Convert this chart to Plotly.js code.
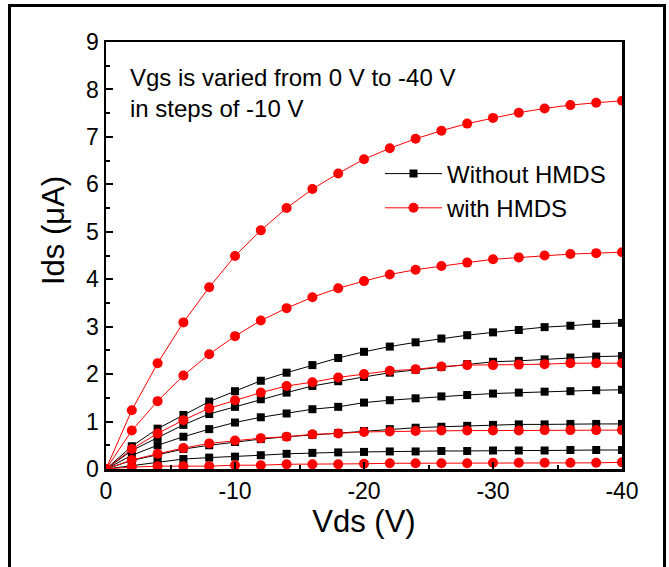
<!DOCTYPE html>
<html>
<head>
<meta charset="utf-8">
<script src="https://cdn.plot.ly/plotly-3.0.1.min.js"></script>
<style>
  html, body { margin: 0; padding: 0; background: #ffffff; }
  #chart { width: 669px; height: 567px; }
</style>
</head>
<body>
<div id="chart"></div>
<script>
// Drain voltage (V)
const vds = [0, -2, -4, -6, -8, -10, -12, -14, -16, -18, -20, -22, -24, -26, -28, -30, -32, -34, -36, -38, -40];

// Without HMDS (black squares), Vgs = -40, -30, -20, -10, 0 V
const noHmdsVgs40 = [0, 0.48, 0.85, 1.14, 1.42, 1.64, 1.86, 2.03, 2.19, 2.34, 2.47, 2.58, 2.67, 2.75, 2.82, 2.88, 2.93, 2.99, 3.02, 3.06, 3.08];
const noHmdsVgs30 = [0, 0.39, 0.66, 0.93, 1.16, 1.31, 1.47, 1.61, 1.75, 1.85, 1.94, 2.03, 2.09, 2.15, 2.21, 2.26, 2.28, 2.31, 2.35, 2.37, 2.38];
const noHmdsVgs20 = [0, 0.29, 0.50, 0.68, 0.84, 0.98, 1.09, 1.17, 1.26, 1.31, 1.40, 1.45, 1.49, 1.53, 1.56, 1.59, 1.61, 1.63, 1.64, 1.66, 1.67];
const noHmdsVgs10 = [0, 0.18, 0.30, 0.42, 0.50, 0.57, 0.63, 0.68, 0.72, 0.76, 0.80, 0.84, 0.87, 0.89, 0.91, 0.93, 0.94, 0.94, 0.95, 0.95, 0.95];
const noHmdsVgs0  = [0, 0.07, 0.15, 0.21, 0.24, 0.26, 0.29, 0.32, 0.34, 0.35, 0.36, 0.37, 0.37, 0.38, 0.38, 0.39, 0.39, 0.39, 0.40, 0.40, 0.40];

// With HMDS (red circles), Vgs = -40, -30, -20, -10, 0 V
const hmdsVgs40 = [0, 1.24, 2.23, 3.09, 3.83, 4.49, 5.03, 5.50, 5.90, 6.23, 6.53, 6.76, 6.96, 7.13, 7.28, 7.40, 7.51, 7.60, 7.67, 7.72, 7.76];
const hmdsVgs30 = [0, 0.81, 1.43, 1.97, 2.42, 2.80, 3.13, 3.39, 3.62, 3.81, 3.96, 4.10, 4.20, 4.28, 4.35, 4.42, 4.46, 4.50, 4.53, 4.55, 4.57];
const hmdsVgs20 = [0, 0.42, 0.75, 1.03, 1.28, 1.45, 1.61, 1.75, 1.83, 1.93, 2.00, 2.07, 2.10, 2.16, 2.19, 2.19, 2.20, 2.21, 2.23, 2.23, 2.23];
const hmdsVgs10 = [0, 0.19, 0.32, 0.44, 0.54, 0.60, 0.65, 0.68, 0.73, 0.75, 0.78, 0.79, 0.80, 0.81, 0.81, 0.81, 0.81, 0.82, 0.82, 0.82, 0.82];
const hmdsVgs0  = [0, 0.04, 0.06, 0.06, 0.06, 0.08, 0.08, 0.10, 0.10, 0.10, 0.11, 0.12, 0.12, 0.12, 0.12, 0.13, 0.13, 0.13, 0.13, 0.13, 0.14];

const noHmdsSeries = [noHmdsVgs40, noHmdsVgs30, noHmdsVgs20, noHmdsVgs10, noHmdsVgs0];
const hmdsSeries = [hmdsVgs40, hmdsVgs30, hmdsVgs20, hmdsVgs10, hmdsVgs0];

const legendNames = ['Without HMDS', 'with HMDS'];
const xTickVals = [0, -10, -20, -30, -40];
const xTickText = ['0', '-10', '-20', '-30', '-40'];
const xMinorVals = [-5, -15, -25, -35];
const yTickVals = [0, 1, 2, 3, 4, 5, 6, 7, 8, 9];
const yTickText = ['0', '1', '2', '3', '4', '5', '6', '7', '8', '9'];
const yMinorVals = [0.5, 1.5, 2.5, 3.5, 4.5, 5.5, 6.5, 7.5, 8.5];
const noteText = 'Vgs is varied from 0 V to -40 V<br>in steps of -10 V';
const xTitle = 'Vds (V)';
const yTitle = 'Ids (\u03bcA)';

const FONT = 'Liberation Sans, Arial, Helvetica, sans-serif';

const traces = [];
noHmdsSeries.forEach((ys, i) => {
  traces.push({
    x: vds, y: ys, type: 'scatter', mode: 'lines+markers',
    name: legendNames[0], legendgroup: 'a', showlegend: i === 0,
    line: { color: '#000000', width: 1 },
    marker: { symbol: 'square', size: 8, color: '#000000' }
  });
});
hmdsSeries.forEach((ys, i) => {
  traces.push({
    x: vds, y: ys, type: 'scatter', mode: 'lines+markers',
    name: legendNames[1], legendgroup: 'b', showlegend: i === 0,
    line: { color: '#ff0000', width: 1 },
    marker: { symbol: 'circle', size: 10, color: '#ff0000' }
  });
});

const layout = {
  width: 669, height: 567,
  margin: { l: 106, r: 47, t: 42, b: 98, pad: 0 },
  paper_bgcolor: '#ffffff', plot_bgcolor: '#ffffff',
  font: { family: FONT, color: '#000000' },
  showlegend: true,
  legend: {
    x: (380 - 106) / 516, xanchor: 'left', y: (469 - 191) / 427, yanchor: 'middle',
    bgcolor: 'rgba(0,0,0,0)', borderwidth: 0,
    font: { family: FONT, size: 24, color: '#000000' },
    tracegroupgap: 0, itemwidth: 57
  },
  xaxis: {
    range: [0, -40], autorange: false,
    tickmode: 'array', tickvals: xTickVals, ticktext: xTickText,
    ticks: 'inside', ticklen: 7, tickwidth: 2, tickcolor: '#000000',
    minor: { tickmode: 'array', tickvals: xMinorVals, ticks: 'inside', ticklen: 4, tickwidth: 2, tickcolor: '#000000' },
    showline: true, linewidth: 2.5, linecolor: '#000000', mirror: true,
    showgrid: false, zeroline: false,
    tickfont: { family: FONT, size: 23, color: '#000000' },
    title: { text: xTitle, font: { family: FONT, size: 31, color: '#000000' }, standoff: 6 }
  },
  yaxis: {
    range: [0, 9], autorange: false,
    tickmode: 'array', tickvals: yTickVals, ticktext: yTickText,
    ticks: 'inside', ticklen: 7, tickwidth: 2, tickcolor: '#000000',
    minor: { tickmode: 'array', tickvals: yMinorVals, ticks: 'inside', ticklen: 4, tickwidth: 2, tickcolor: '#000000' },
    showline: true, linewidth: 2.5, linecolor: '#000000', mirror: true,
    showgrid: false, zeroline: false,
    tickfont: { family: FONT, size: 23, color: '#000000' }
  },
  annotations: [{
    xref: 'paper', yref: 'paper', x: 0.0426, y: 0.8794,
    xanchor: 'left', yanchor: 'middle', align: 'left',
    text: noteText, showarrow: false,
    font: { family: FONT, size: 24, color: '#000000' }
  }, {
    xref: 'paper', yref: 'paper', x: (53 - 106) / 516, y: (469 - 231) / 427,
    xanchor: 'center', yanchor: 'middle', textangle: -90,
    text: yTitle, showarrow: false,
    font: { family: FONT, size: 31, color: '#000000' }
  }],
  shapes: [{
    type: 'rect', xref: 'paper', yref: 'paper',
    x0: (9.5 - 106) / 516, x1: (664.5 - 106) / 516,
    y0: (469 - 600) / 427, y1: (469 - 5.5) / 427,
    line: { color: '#000000', width: 3 }, fillcolor: 'rgba(0,0,0,0)', layer: 'above'
  }]
};

Plotly.newPlot('chart', traces, layout, { displayModeBar: false, staticPlot: true });
</script>
</body>
</html>
